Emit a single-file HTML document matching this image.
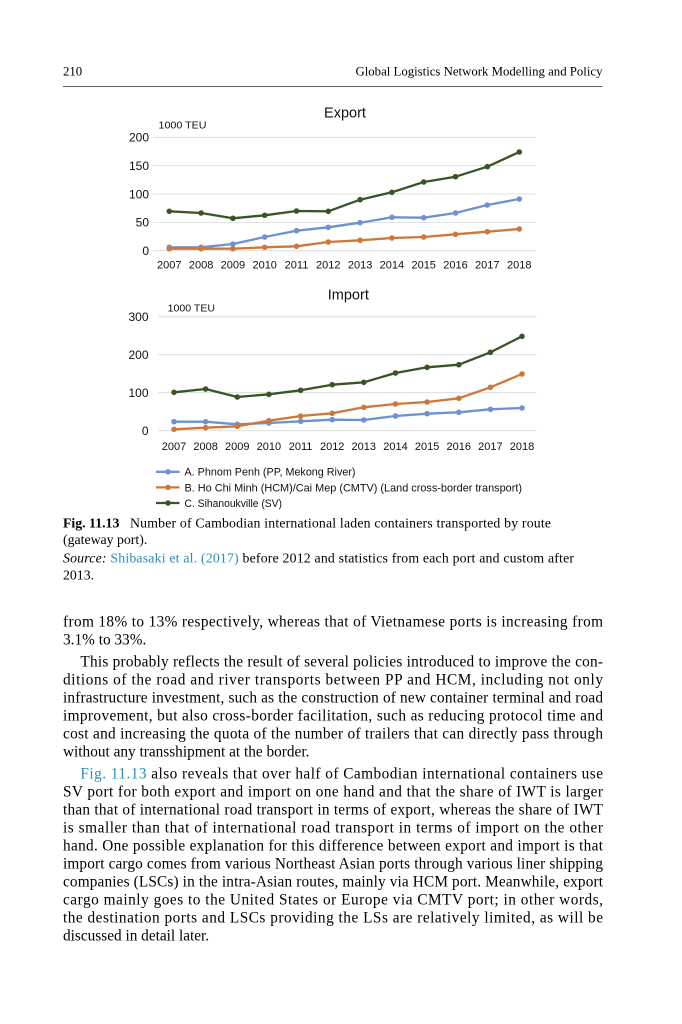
<!DOCTYPE html>
<html><head><meta charset="utf-8"><style>
html,body{margin:0;padding:0;background:#fff;}
svg{display:block;}
.ser{font-family:"Liberation Serif",serif;fill:#000;}
.sans{font-family:"Liberation Sans",sans-serif;fill:#111;}
</style></head><body>
<svg width="682" height="1024" viewBox="0 0 682 1024" xmlns="http://www.w3.org/2000/svg">
<defs>
<marker id="mB" viewBox="0 0 6 6" refX="3" refY="3" markerUnits="userSpaceOnUse" markerWidth="6" markerHeight="6"><circle cx="3" cy="3" r="2.8" fill="#6d91d2"/></marker>
<marker id="mO" viewBox="0 0 6 6" refX="3" refY="3" markerUnits="userSpaceOnUse" markerWidth="6" markerHeight="6"><circle cx="3" cy="3" r="2.8" fill="#cf7738"/></marker>
<marker id="mG" viewBox="0 0 6 6" refX="3" refY="3" markerUnits="userSpaceOnUse" markerWidth="6" markerHeight="6"><circle cx="3" cy="3" r="2.8" fill="#3a5426"/></marker>
</defs>
<rect width="682" height="1024" fill="#fff"/>

<!-- header -->
<text class="ser" x="63" y="75.7" font-size="12.8">210</text>
<text class="ser" x="602.5" y="75.7" font-size="12.8" text-anchor="end">Global Logistics Network Modelling and Policy</text>
<line x1="63" y1="86.6" x2="602.5" y2="86.6" stroke="#444" stroke-width="0.9"/>

<!-- EXPORT chart -->
<g stroke="#d9d9d9" stroke-width="0.8">
<line x1="153" y1="137.3" x2="536" y2="137.3"/>
<line x1="153" y1="165.65" x2="536" y2="165.65"/>
<line x1="153" y1="194" x2="536" y2="194"/>
<line x1="153" y1="222.35" x2="536" y2="222.35"/>
<line x1="153" y1="250.7" x2="536" y2="250.7"/>
</g>
<text class="sans" x="345" y="117.7" font-size="14.5" text-anchor="middle">Export</text>
<text class="sans" x="158.5" y="128.3" font-size="10.5" textLength="48" lengthAdjust="spacingAndGlyphs">1000 TEU</text>
<g class="sans" font-size="12" text-anchor="end">
<text x="149" y="141.6">200</text>
<text x="149" y="170">150</text>
<text x="149" y="198.3">100</text>
<text x="149" y="226.7">50</text>
<text x="149" y="255">0</text>
</g>
<g class="sans" font-size="11" text-anchor="middle">
<text x="169.3" y="268.3">2007</text><text x="201.1" y="268.3">2008</text><text x="232.9" y="268.3">2009</text><text x="264.7" y="268.3">2010</text><text x="296.5" y="268.3">2011</text><text x="328.3" y="268.3">2012</text><text x="360.1" y="268.3">2013</text><text x="391.9" y="268.3">2014</text><text x="423.7" y="268.3">2015</text><text x="455.5" y="268.3">2016</text><text x="487.3" y="268.3">2017</text><text x="519.3" y="268.3">2018</text>
</g>
<g fill="none" stroke-width="2.3" stroke-linejoin="round">
<polyline stroke="#6d91d2" marker-start="url(#mB)" marker-mid="url(#mB)" marker-end="url(#mB)" points="169.3,247.3 201.1,247.3 232.9,244 264.7,237 296.5,230.7 328.3,227.3 360.1,222.7 391.9,217.3 423.7,217.7 455.5,213 487.3,205 519.3,199"/>
<polyline stroke="#cf7738" marker-start="url(#mO)" marker-mid="url(#mO)" marker-end="url(#mO)" points="169.3,248.7 201.1,248.7 232.9,248.7 264.7,247.3 296.5,246.3 328.3,242 360.1,240.3 391.9,238 423.7,237 455.5,234.3 487.3,231.7 519.3,229"/>
<polyline stroke="#3a5426" marker-start="url(#mG)" marker-mid="url(#mG)" marker-end="url(#mG)" points="169.3,211.3 201.1,213 232.9,218.3 264.7,215.3 296.5,211 328.3,211.3 360.1,199.7 391.9,192.3 423.7,182 455.5,176.7 487.3,166.7 519.3,152"/>
</g>

<!-- IMPORT chart -->
<g stroke="#d9d9d9" stroke-width="0.8">
<line x1="158.3" y1="316.7" x2="536.7" y2="316.7"/>
<line x1="158.3" y1="354.7" x2="536.7" y2="354.7"/>
<line x1="158.3" y1="392.7" x2="536.7" y2="392.7"/>
<line x1="158.3" y1="430.7" x2="536.7" y2="430.7"/>
</g>
<text class="sans" x="348.3" y="299.3" font-size="14.5" text-anchor="middle">Import</text>
<text class="sans" x="167.7" y="311.5" font-size="10.5" textLength="47.3" lengthAdjust="spacingAndGlyphs">1000 TEU</text>
<g class="sans" font-size="12" text-anchor="end">
<text x="148.5" y="321">300</text>
<text x="148.5" y="359">200</text>
<text x="148.5" y="397">100</text>
<text x="148.5" y="435">0</text>
</g>
<g class="sans" font-size="11" text-anchor="middle">
<text x="174" y="450">2007</text><text x="205.6" y="450">2008</text><text x="237.3" y="450">2009</text><text x="268.9" y="450">2010</text><text x="300.6" y="450">2011</text><text x="332.2" y="450">2012</text><text x="363.8" y="450">2013</text><text x="395.5" y="450">2014</text><text x="427.1" y="450">2015</text><text x="458.8" y="450">2016</text><text x="490.4" y="450">2017</text><text x="522" y="450">2018</text>
</g>
<g fill="none" stroke-width="2.3" stroke-linejoin="round">
<polyline stroke="#6d91d2" marker-start="url(#mB)" marker-mid="url(#mB)" marker-end="url(#mB)" points="174,421.7 205.6,421.7 237.3,424.3 268.9,423 300.6,421.3 332.2,419.7 363.8,420 395.5,416 427.1,413.7 458.8,412.3 490.4,409.3 522,408"/>
<polyline stroke="#cf7738" marker-start="url(#mO)" marker-mid="url(#mO)" marker-end="url(#mO)" points="174,429.3 205.6,427.7 237.3,426.3 268.9,420.7 300.6,416 332.2,413.3 363.8,407.3 395.5,404 427.1,402 458.8,398.3 490.4,387.3 522,374"/>
<polyline stroke="#3a5426" marker-start="url(#mG)" marker-mid="url(#mG)" marker-end="url(#mG)" points="174,392.3 205.6,389 237.3,397 268.9,394.3 300.6,390.3 332.2,384.7 363.8,382.3 395.5,373 427.1,367.3 458.8,364.7 490.4,352.3 522,336.3"/>
</g>

<!-- legend -->
<g stroke-width="2.3">
<line x1="156" y1="471.8" x2="179.5" y2="471.8" stroke="#6d91d2"/><circle cx="168" cy="471.8" r="2.8" fill="#6d91d2"/>
<line x1="156" y1="487.4" x2="179.5" y2="487.4" stroke="#cf7738"/><circle cx="168" cy="487.4" r="2.8" fill="#cf7738"/>
<line x1="156" y1="503" x2="179.5" y2="503" stroke="#3a5426"/><circle cx="168" cy="503" r="2.8" fill="#3a5426"/>
</g>
<g class="sans" font-size="10.7">
<text x="184.5" y="475.7" textLength="171" lengthAdjust="spacingAndGlyphs">A. Phnom Penh (PP, Mekong River)</text>
<text x="184.5" y="491.3" textLength="337.5" lengthAdjust="spacingAndGlyphs">B. Ho Chi Minh (HCM)/Cai Mep (CMTV) (Land cross-border transport)</text>
<text x="184.5" y="506.9" textLength="97.5" lengthAdjust="spacingAndGlyphs">C. Sihanoukville (SV)</text>
</g>

<!-- caption -->
<g class="ser" font-size="13.8">
<text x="63" y="527.5" font-weight="bold">Fig. 11.13</text>
<text x="130" y="527.5" textLength="421" lengthAdjust="spacing">Number of Cambodian international laden containers transported by route</text>
<text x="63" y="544">(gateway port).</text>
<text x="63" y="562.5" textLength="511" lengthAdjust="spacing"><tspan font-style="italic">Source:</tspan> <tspan fill="#2a8cc0">Shibasaki et al. (2017)</tspan> before 2012 and statistics from each port and custom after</text>
<text x="63" y="579.5">2013.</text>
</g>

<!-- body text -->
<g class="ser" font-size="15.3">
<text x="63" y="626.5" textLength="540" lengthAdjust="spacing">from 18% to 13% respectively, whereas that of Vietnamese ports is increasing from</text>
<text x="63" y="644.5">3.1% to 33%.</text>
<text x="80.4" y="666.5" textLength="522.6" lengthAdjust="spacing">This probably reflects the result of several policies introduced to improve the con-</text>
<text x="63" y="684.5" textLength="540" lengthAdjust="spacing">ditions of the road and river transports between PP and HCM, including not only</text>
<text x="63" y="702.5" textLength="540" lengthAdjust="spacing">infrastructure investment, such as the construction of new container terminal and road</text>
<text x="63" y="720.5" textLength="540" lengthAdjust="spacing">improvement, but also cross-border facilitation, such as reducing protocol time and</text>
<text x="63" y="738.5" textLength="540" lengthAdjust="spacing">cost and increasing the quota of the number of trailers that can directly pass through</text>
<text x="63" y="756.5">without any transshipment at the border.</text>
<text x="80.4" y="778.5" textLength="522.6" lengthAdjust="spacing"><tspan fill="#2a8cc0">Fig. 11.13</tspan> also reveals that over half of Cambodian international containers use</text>
<text x="63" y="796.5" textLength="540" lengthAdjust="spacing">SV port for both export and import on one hand and that the share of IWT is larger</text>
<text x="63" y="814.5" textLength="540" lengthAdjust="spacing">than that of international road transport in terms of export, whereas the share of IWT</text>
<text x="63" y="832.5" textLength="540" lengthAdjust="spacing">is smaller than that of international road transport in terms of import on the other</text>
<text x="63" y="850.5" textLength="540" lengthAdjust="spacing">hand. One possible explanation for this difference between export and import is that</text>
<text x="63" y="868.5" textLength="540" lengthAdjust="spacing">import cargo comes from various Northeast Asian ports through various liner shipping</text>
<text x="63" y="886.5" textLength="540" lengthAdjust="spacing">companies (LSCs) in the intra-Asian routes, mainly via HCM port. Meanwhile, export</text>
<text x="63" y="904.5" textLength="540" lengthAdjust="spacing">cargo mainly goes to the United States or Europe via CMTV port; in other words,</text>
<text x="63" y="922.5" textLength="540" lengthAdjust="spacing">the destination ports and LSCs providing the LSs are relatively limited, as will be</text>
<text x="63" y="940.5">discussed in detail later.</text>
</g>
</svg>
</body></html>
